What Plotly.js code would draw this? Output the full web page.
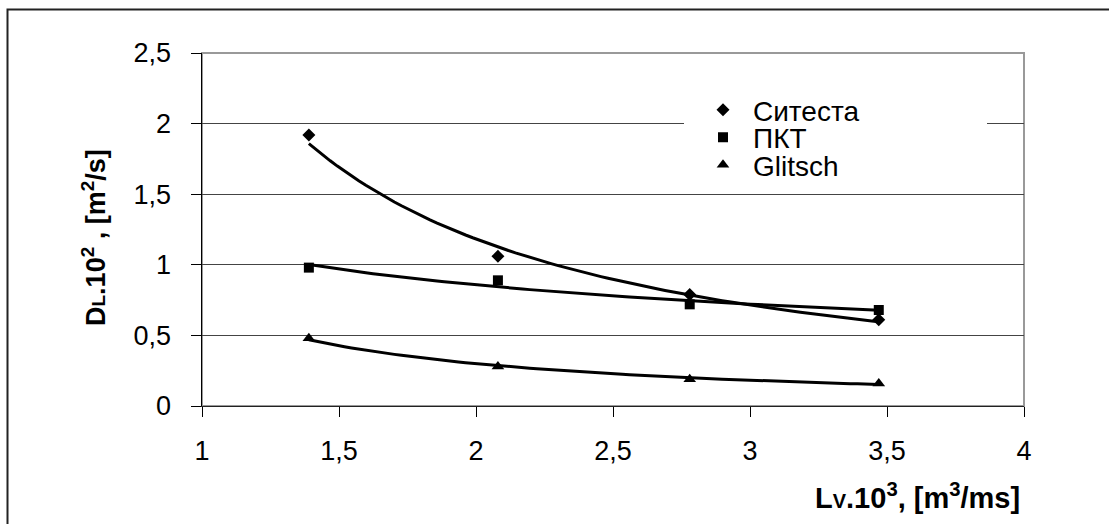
<!DOCTYPE html>
<html>
<head>
<meta charset="utf-8">
<script src="https://cdn.plot.ly/plotly-3.0.1.min.js"></script>
<style>
html,body{margin:0;padding:0;background:#fff;}
#chart{width:1109px;height:524px;}
</style>
</head>
<body>
<div id="chart"></div>
<script>
// ---- data ----
var xValues = [1.39, 2.08, 2.78, 3.47];
var sitesta = [1.92, 1.06, 0.79, 0.61];
var pkt     = [0.98, 0.89, 0.72, 0.68];
var glitsch = [0.48, 0.28, 0.19, 0.16];
var seriesNames = ['Ситеста', 'ПКТ', 'Glitsch'];
var seriesSymbols = ['diamond', 'square', 'triangle-up'];
var xTickVals = [1, 1.5, 2, 2.5, 3, 3.5, 4];
var yTickVals = [0, 0.5, 1, 1.5, 2, 2.5];

// power trendline (least squares on ln-ln), as a spreadsheet would draw it
function powerFit(xs, ys) {
  var n = xs.length, lx = xs.map(Math.log), ly = ys.map(Math.log);
  var mx = lx.reduce(function(a,b){return a+b;},0)/n;
  var my = ly.reduce(function(a,b){return a+b;},0)/n;
  var sxy = 0, sxx = 0;
  for (var i=0;i<n;i++){ sxy += (lx[i]-mx)*(ly[i]-my); sxx += (lx[i]-mx)*(lx[i]-mx); }
  var b = sxy/sxx, a = Math.exp(my - b*mx);
  var x0 = Math.min.apply(null, xs), x1 = Math.max.apply(null, xs);
  var tx = [], ty = [];
  for (var k=0;k<=80;k++){ var x = x0 + (x1-x0)*k/80; tx.push(x); ty.push(a*Math.pow(x,b)); }
  return {x: tx, y: ty};
}

var F = 'Liberation Sans, Arial, sans-serif';
var W = 1109, H = 524, L = 202, R = 1024, T = 53, B = 406;
function px2x(p){ return (p - L)/(R - L); }
function px2y(p){ return (B - p)/(B - T); }

var allSeries = [sitesta, pkt, glitsch];
var legendIds = ['legend', 'legend2', 'legend3'];
var legendCentersPx = [110, 137.5, 165];
var traces = [];
allSeries.forEach(function(ys, i){
  var f = powerFit(xValues, ys);
  traces.push({x: f.x, y: f.y, mode: 'lines', showlegend: false, hoverinfo: 'skip',
    line: {color: '#000', width: 3}});
});
var sizes = [10, 10, 11];
allSeries.forEach(function(ys, i){
  traces.push({x: xValues, y: ys, mode: 'markers', name: seriesNames[i], legend: legendIds[i],
    marker: {symbol: seriesSymbols[i], size: sizes[i], color: '#000'}});
});

function mkLegend(i){
  return {x: px2x(693), y: px2y(legendCentersPx[i]), xanchor: 'left', yanchor: 'middle',
    bgcolor: 'rgba(0,0,0,0)', borderwidth: 0, font: {family: F, size: 28, color: '#000'},
    itemwidth: 50, tracegroupgap: 0};
}

var layout = {
  width: W, height: H,
  margin: {l: L, r: W - R, t: T, b: H - B, pad: 0},
  paper_bgcolor: '#fff', plot_bgcolor: '#fff',
  separators: ',.',
  font: {family: F, size: 27, color: '#000'},
  showlegend: true,
  legend: mkLegend(0), legend2: mkLegend(1), legend3: mkLegend(2),
  xaxis: {range: [1, 4], tickvals: xTickVals, ticks: 'outside', ticklen: 10, tickcolor: '#000',
    tickwidth: 1, showline: true, linecolor: '#222', linewidth: 1, showgrid: false, zeroline: false,
    ticklabelstandoff: 11, tickfont: {family: F, size: 27, color: '#000'}},
  yaxis: {range: [0, 2.5], tickvals: yTickVals, ticks: 'outside', ticklen: 10, tickcolor: '#000',
    tickwidth: 1, showline: true, linecolor: '#000', linewidth: 1.5, showgrid: true,
    gridcolor: '#444', gridwidth: 1, zeroline: false, ticklabelstandoff: 14,
    tickfont: {family: F, size: 27, color: '#000'}},
  shapes: [
    {type: 'rect', xref: 'paper', yref: 'paper', x0: 0, x1: 1, y0: 0, y1: 1,
      line: {color: '#999', width: 2}, layer: 'below'},
    {type: 'rect', xref: 'paper', yref: 'paper', x0: px2x(684), x1: px2x(987), y0: px2y(186), y1: px2y(96),
      line: {width: 0}, fillcolor: '#fff', layer: 'above'},
    {type: 'rect', xref: 'paper', yref: 'paper', x0: px2x(7.5), x1: px2x(1120), y0: px2y(540), y1: px2y(9.5),
      line: {color: '#222', width: 2}, layer: 'below'}
  ],
  annotations: [
    {xref: 'paper', yref: 'paper', x: px2x(1022), y: px2y(496), xanchor: 'right', yanchor: 'middle',
      showarrow: false, font: {family: F, size: 29, color: '#000'},
      text: '<b>L<span style="font-size:20px">V</span>.10<sup>3</sup>, [m<sup>3</sup>/ms]</b>'},
    {xref: 'paper', yref: 'paper', x: px2x(94), y: px2y(238), xanchor: 'center', yanchor: 'middle',
      textangle: -90, showarrow: false, font: {family: F, size: 27, color: '#000'},
      text: '<b>D<span style="font-size:19px">L</span>.10<sup>2</sup> , [m<sup>2</sup>/s]</b>'}
  ]
};

Plotly.newPlot('chart', traces, layout, {staticPlot: true, displayModeBar: false});
</script>
</body>
</html>
